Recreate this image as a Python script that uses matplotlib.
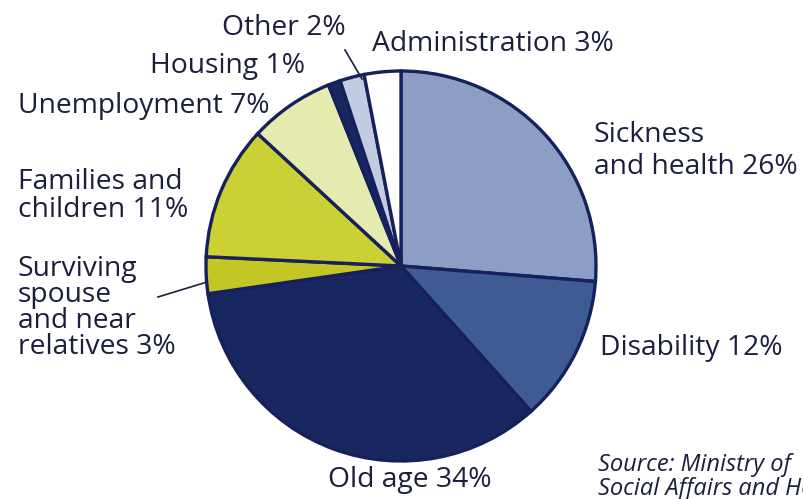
import matplotlib
matplotlib.use("Agg")
import matplotlib.pyplot as plt

# shares of social expenditure, clockwise from 12 o'clock
labels = ["Sickness\nand health 26%", "Disability 12%", "Old age 34%",
          "Surviving\nspouse\nand near\nrelatives 3%", "Families and\nchildren 11%",
          "Unemployment 7%", "Housing 1%", "Other 2%", "Administration 3%"]
shares = [26, 12, 34, 3, 11, 7, 1, 2, 3]
colors = ["#8c9ec6", "#3e5b93", "#18275f", "#c3c624", "#cbd034",
          "#e5eaae", "#18275f", "#c2cce0", "#ffffff"]

# where each label sits (pixel coords, y from top) and its line spacing
label_pos = [(594, 151), (600, 348), (328, 480), (18, 308), (18, 196),
             (18, 106), (150, 66), (222, 28), (372, 44)]
label_ls = [1.18, 1.0, 1.0, 0.89, 1.04, 1.0, 1.0, 1.0, 1.0]

text_col = "#1b1f3b"
edge_col = "#16205a"

plt.rcParams['font.family'] = ['Open Sans', 'DejaVu Sans']

fig = plt.figure(figsize=(8.04, 4.99), dpi=100)
ax = fig.add_axes([0, 0, 1, 1])

H = 499
cx, cy, r = 401, H - 266, 195

ax.pie(shares, colors=colors, startangle=90, counterclock=False,
       center=(cx, cy), radius=r, frame=True,
       wedgeprops=dict(edgecolor=edge_col, linewidth=2.4))
ax.set_xlim(0, 804)
ax.set_ylim(0, 499)
ax.set_aspect("equal")
ax.axis("off")

for lab, (x, y), ls in zip(labels, label_pos, label_ls):
    ax.text(x, H - y, lab, fontsize=20.3, color=text_col, ha="left", va="center",
            linespacing=ls)

# leader lines
ax.plot([345, 362], [H - 50, H - 79], color=text_col, lw=1.2)
ax.plot([158, 207], [H - 297, H - 282], color=text_col, lw=1.2)

ax.text(598, H - 477, "Source: Ministry of\nSocial Affairs and Health", fontsize=17,
        style="italic", color=text_col, ha="left", va="center", linespacing=0.95)

fig.savefig("out.png", dpi=100)
